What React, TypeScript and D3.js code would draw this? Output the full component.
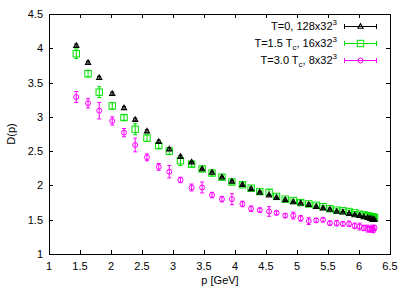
import { useEffect, useRef } from 'react'
import * as d3 from 'd3'

// momenta (GeV), shared by all three lattices
const pValues = [1.44, 1.63, 1.81, 2.02, 2.21, 2.39, 2.58, 2.77, 2.94, 3.12, 3.3, 3.47, 3.63, 3.79, 3.95, 4.12, 4.26, 4.4, 4.55, 4.67, 4.81, 4.94, 5.06, 5.19, 5.31, 5.42, 5.53, 5.64, 5.74, 5.84, 5.93, 6.01, 6.08, 6.14, 6.18, 6.21, 6.23, 6.25]

const dT0 = [4.04, 3.79, 3.57, 3.34, 3.13, 2.96, 2.79, 2.64, 2.53, 2.42, 2.34, 2.24, 2.19, 2.12, 2.06, 2.01, 1.95, 1.9, 1.86, 1.82, 1.79, 1.76, 1.74, 1.72, 1.69, 1.67, 1.65, 1.62, 1.61, 1.59, 1.57, 1.56, 1.54, 1.53, 1.52, 1.51, 1.5, 1.5]
const eT0 = [0.02, 0.02, 0.02, 0.02, 0.02, 0.02, 0.02, 0.02, 0.02, 0.02, 0.01, 0.01, 0.01, 0.01, 0.01, 0.01, 0.01, 0.01, 0.01, 0.01, 0.01, 0.01, 0.01, 0.01, 0.01, 0.01, 0.01, 0.01, 0.01, 0.01, 0.01, 0.01, 0.01, 0.01, 0.01, 0.01, 0.01, 0.01]

const dT15 = [3.92, 3.63, 3.36, 3.16, 2.99, 2.82, 2.69, 2.58, 2.5, 2.36, 2.31, 2.24, 2.18, 2.12, 2.05, 2.01, 1.96, 1.91, 1.9, 1.84, 1.8, 1.78, 1.75, 1.73, 1.71, 1.69, 1.66, 1.64, 1.63, 1.62, 1.6, 1.58, 1.57, 1.56, 1.55, 1.54, 1.54, 1.53]
const eT15 = [0.07, 0.05, 0.08, 0.05, 0.04, 0.08, 0.05, 0.04, 0.05, 0.07, 0.03, 0.03, 0.03, 0.03, 0.03, 0.03, 0.02, 0.02, 0.04, 0.02, 0.02, 0.02, 0.03, 0.02, 0.02, 0.02, 0.02, 0.02, 0.02, 0.02, 0.02, 0.02, 0.02, 0.02, 0.02, 0.02, 0.02, 0.02]

const dT30 = [3.29, 3.2, 3.09, 2.94, 2.77, 2.59, 2.41, 2.27, 2.2, 2.08, 1.97, 1.97, 1.86, 1.8, 1.8, 1.73, 1.66, 1.64, 1.62, 1.6, 1.56, 1.56, 1.52, 1.48, 1.49, 1.5, 1.45, 1.45, 1.44, 1.44, 1.41, 1.4, 1.38, 1.37, 1.36, 1.37, 1.35, 1.38]
const eT30 = [0.08, 0.07, 0.12, 0.06, 0.06, 0.1, 0.05, 0.05, 0.09, 0.04, 0.05, 0.08, 0.04, 0.04, 0.08, 0.04, 0.04, 0.03, 0.07, 0.03, 0.03, 0.05, 0.04, 0.05, 0.03, 0.03, 0.03, 0.04, 0.03, 0.04, 0.04, 0.05, 0.04, 0.05, 0.04, 0.05, 0.04, 0.04]

const xTicks = [1, 1.5, 2, 2.5, 3, 3.5, 4, 4.5, 5, 5.5, 6, 6.5]
const yTicks = [1, 1.5, 2, 2.5, 3, 3.5, 4, 4.5]

const W = 411
const H = 288
const FONT = '"Liberation Sans", Arial, sans-serif'

type Series = { name: string, sub?: string, tail: string, color: string, shape: string, d: number[], e: number[] }

const series: Series[] = [
  { name: 'T=0, 128x32', tail: '3', color: '#000000', shape: 'triangle', d: dT0, e: eT0 },
  { name: 'T=1.5 T', sub: 'c', tail: ', 16x32', color: '#00e000', shape: 'square', d: dT15, e: eT15 },
  { name: 'T=3.0 T', sub: 'c', tail: ', 8x32', color: '#ff00ff', shape: 'circle', d: dT30, e: eT30 },
]

export default function App() {
  const svgRef = useRef<SVGSVGElement>(null)

  useEffect(() => {
    if (!svgRef.current) return
    const svg = d3.select(svgRef.current)
    svg.selectAll('*').remove()

    const left = 49, right = 390, top = 14, bottom = 254
    const x = d3.scaleLinear([1, 6.5], [left, right])
    const y = d3.scaleLinear([1, 4.5], [bottom, top])

    // ticks (mirrored, inward)
    const g = svg.append('g').attr('stroke', '#000').attr('stroke-width', 1)
    xTicks.forEach(t => {
      const px = Math.round(x(t)) + 0.5
      g.append('line').attr('x1', px).attr('x2', px).attr('y1', bottom).attr('y2', bottom - 4)
      g.append('line').attr('x1', px).attr('x2', px).attr('y1', top).attr('y2', top + 4)
    })
    yTicks.forEach(t => {
      const py = Math.round(y(t)) + 0.5
      g.append('line').attr('x1', left).attr('x2', left + 4).attr('y1', py).attr('y2', py)
      g.append('line').attr('x1', right).attr('x2', right - 4).attr('y1', py).attr('y2', py)
    })

    svg.append('rect')
      .attr('x', left + 0.5).attr('y', top + 0.5)
      .attr('width', right - left).attr('height', bottom - top)
      .attr('fill', 'none').attr('stroke', '#000').attr('stroke-width', 1)

    const labels = svg.append('g').attr('font-family', FONT).attr('font-size', 11).attr('fill', '#000')
    xTicks.forEach(t => {
      labels.append('text').attr('x', x(t)).attr('y', 270).attr('text-anchor', 'middle').text(String(t))
    })
    yTicks.forEach(t => {
      labels.append('text').attr('x', 43).attr('y', y(t) + 4).attr('text-anchor', 'end').text(String(t))
    })
    labels.append('text').attr('x', 220).attr('y', 284).attr('text-anchor', 'middle').text('p [GeV]')
    labels.append('text').attr('transform', `translate(15,${(top + bottom) / 2}) rotate(-90)`)
      .attr('text-anchor', 'middle').text('D(p)')

    const drawSymbol = (sel: any, shape: string, cx: number, cy: number, color: string) => {
      if (shape === 'triangle') {
        sel.append('path')
          .attr('d', `M${cx},${cy - 2.8}L${cx + 2.6},${cy + 1.8}L${cx - 2.6},${cy + 1.8}Z`)
          .attr('fill', 'none').attr('stroke', color).attr('stroke-width', 1.1)
      } else if (shape === 'square') {
        sel.append('rect').attr('x', cx - 3.2).attr('y', cy - 3.2).attr('width', 6.4).attr('height', 6.4)
          .attr('fill', 'none').attr('stroke', color).attr('stroke-width', 1)
      } else {
        sel.append('circle').attr('cx', cx).attr('cy', cy).attr('r', 2.5)
          .attr('fill', 'none').attr('stroke', color).attr('stroke-width', 1)
      }
    }

    // data: draw magenta, then green, then black on top
    const order = [2, 1, 0]
    order.forEach(si => {
      const s = series[si]
      const sg = svg.append('g')
      pValues.forEach((p, i) => {
        const cx = x(p)
        const cy = y(s.d[i])
        const y1 = y(s.d[i] + s.e[i])
        const y2 = y(s.d[i] - s.e[i])
        sg.append('line').attr('x1', cx).attr('x2', cx).attr('y1', y1).attr('y2', y2)
          .attr('stroke', s.color).attr('stroke-width', 1)
        sg.append('line').attr('x1', cx - 2).attr('x2', cx + 2).attr('y1', y1).attr('y2', y1)
          .attr('stroke', s.color).attr('stroke-width', 1)
        sg.append('line').attr('x1', cx - 2).attr('x2', cx + 2).attr('y1', y2).attr('y2', y2)
          .attr('stroke', s.color).attr('stroke-width', 1)
        drawSymbol(sg, s.shape, cx, cy, s.color)
      })
    })

    // legend
    const lg = svg.append('g').attr('font-family', FONT).attr('font-size', 11)
    series.forEach((s, i) => {
      const ry = 26 + i * 17
      const t = lg.append('text').attr('x', 337).attr('y', ry + 4).attr('text-anchor', 'end').attr('fill', '#000')
      t.append('tspan').text(s.name)
      if (s.sub) {
        t.append('tspan').attr('dy', 3).attr('font-size', 8).text(s.sub)
        t.append('tspan').attr('dy', -3).text(s.tail)
        t.append('tspan').attr('dy', -5).attr('font-size', 8).text('3')
      } else {
        t.append('tspan').attr('dy', -5).attr('font-size', 8).text(s.tail)
      }
      const x1 = 344, x2 = 377
      lg.append('line').attr('x1', x1).attr('x2', x2).attr('y1', ry + 0.5).attr('y2', ry + 0.5)
        .attr('stroke', s.color).attr('stroke-width', 1)
      lg.append('line').attr('x1', x1 + 0.5).attr('x2', x1 + 0.5).attr('y1', ry - 2).attr('y2', ry + 3)
        .attr('stroke', s.color).attr('stroke-width', 1)
      lg.append('line').attr('x1', x2 - 0.5).attr('x2', x2 - 0.5).attr('y1', ry - 2).attr('y2', ry + 3)
        .attr('stroke', s.color).attr('stroke-width', 1)
      drawSymbol(lg, s.shape, (x1 + x2) / 2, ry + 0.5, s.color)
    })
  }, [])

  return (
    <svg
      ref={svgRef}
      width={W}
      height={H}
      style={{ position: 'absolute', left: 0, top: 0, background: '#fff', display: 'block' }}
    />
  )
}
